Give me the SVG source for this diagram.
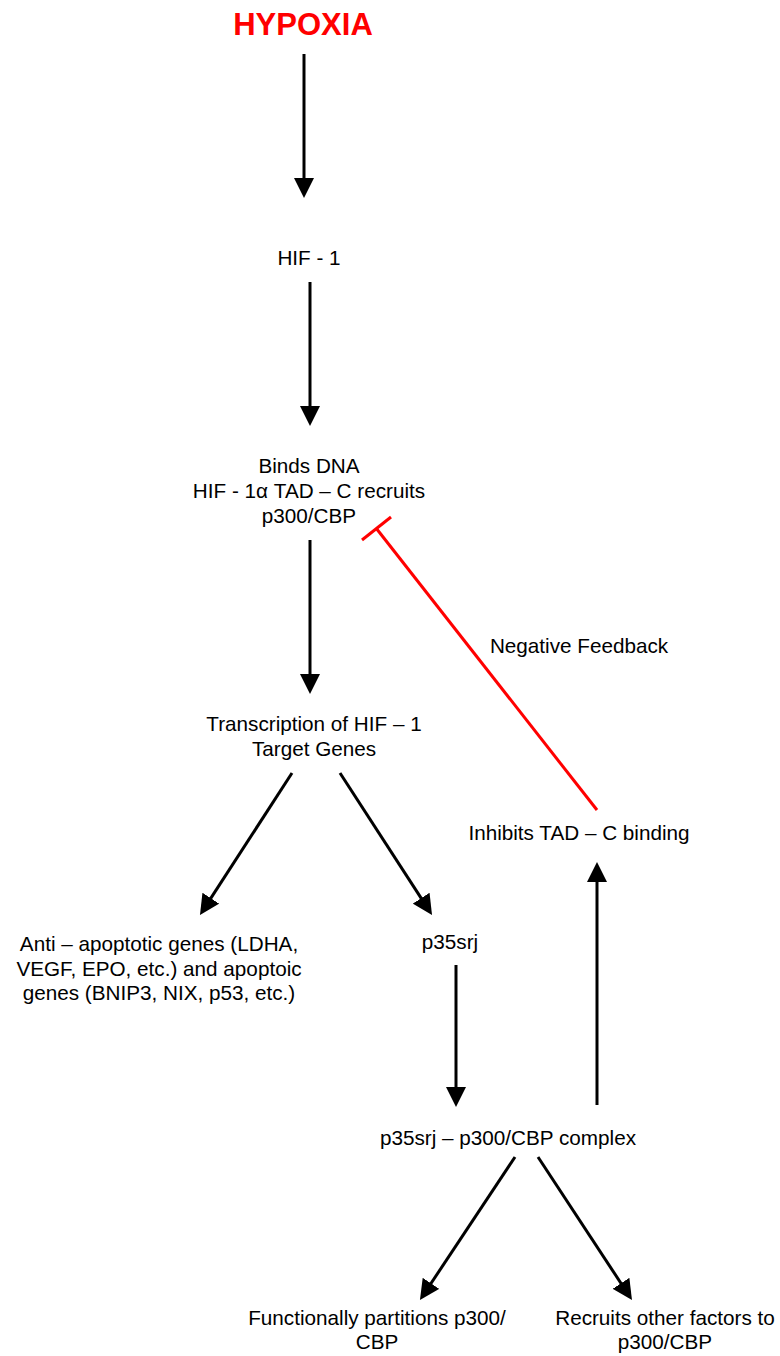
<svg xmlns="http://www.w3.org/2000/svg" width="780" height="1356" viewBox="0 0 780 1356">
  <style>
    text { font-family: "Liberation Sans", Arial, sans-serif; font-size: 20.7px; fill: #000; text-anchor: middle; }
    .title { font-size: 31px; font-weight: bold; fill: #FF0000; }
    .arrow { stroke: #000; stroke-width: 3; fill: none; marker-end: url(#head); }
    .inhibit { stroke: #FF0000; stroke-width: 3; fill: none; }
  </style>
  <defs>
    <marker id="head" viewBox="0 0 20 20" refX="8" refY="10" markerWidth="20" markerHeight="20" markerUnits="userSpaceOnUse" orient="auto">
      <path d="M0,0 L20,10 L0,20 z" fill="#000"/>
    </marker>
  </defs>

  <!-- connectors -->
  <g id="connectors">
    <line class="arrow" x1="304" y1="54" x2="304" y2="186"/>
    <line class="arrow" x1="310" y1="282" x2="310" y2="414"/>
    <line class="arrow" x1="310" y1="540" x2="310" y2="682"/>
    <line class="arrow" x1="292" y1="773" x2="206.5" y2="904.9"/>
    <line class="arrow" x1="340" y1="773" x2="425.5" y2="904.9"/>
    <line class="arrow" x1="456" y1="965" x2="456" y2="1095"/>
    <line class="arrow" x1="597" y1="1105" x2="597" y2="874"/>
    <line class="arrow" x1="515" y1="1157" x2="426.6" y2="1290"/>
    <line class="arrow" x1="538" y1="1157" x2="625.4" y2="1290"/>
    <!-- negative feedback (inhibition) -->
    <line class="inhibit" x1="597" y1="810" x2="376" y2="528"/>
    <line class="inhibit" x1="362" y1="540" x2="391" y2="517"/>
  </g>

  <g id="hypoxia">
    <text class="title" x="303" y="35">HYPOXIA</text>
  </g>
  <g id="hif1">
    <text x="309" y="265">HIF - 1</text>
  </g>
  <g id="binds-dna">
    <text x="309" y="473">Binds DNA</text>
    <text x="309" y="498">HIF - 1α TAD – C recruits</text>
    <text x="309" y="523">p300/CBP</text>
  </g>
  <g id="transcription">
    <text x="314" y="731">Transcription of HIF – 1</text>
    <text x="314" y="756">Target Genes</text>
  </g>
  <g id="negative-feedback-label">
    <text x="579" y="653">Negative Feedback</text>
  </g>
  <g id="inhibits">
    <text x="579" y="840">Inhibits TAD – C binding</text>
  </g>
  <g id="genes">
    <text x="159" y="951">Anti – apoptotic genes (LDHA,</text>
    <text x="159" y="976">VEGF, EPO, etc.) and apoptoic</text>
    <text x="159" y="1000">genes (BNIP3, NIX, p53, etc.)</text>
  </g>
  <g id="p35srj">
    <text x="450" y="949">p35srj</text>
  </g>
  <g id="complex">
    <text x="508" y="1145">p35srj – p300/CBP complex</text>
  </g>
  <g id="partitions">
    <text x="377" y="1325">Functionally partitions p300/</text>
    <text x="377" y="1349">CBP</text>
  </g>
  <g id="recruits">
    <text x="665" y="1325">Recruits other factors to</text>
    <text x="665" y="1349">p300/CBP</text>
  </g>
</svg>
